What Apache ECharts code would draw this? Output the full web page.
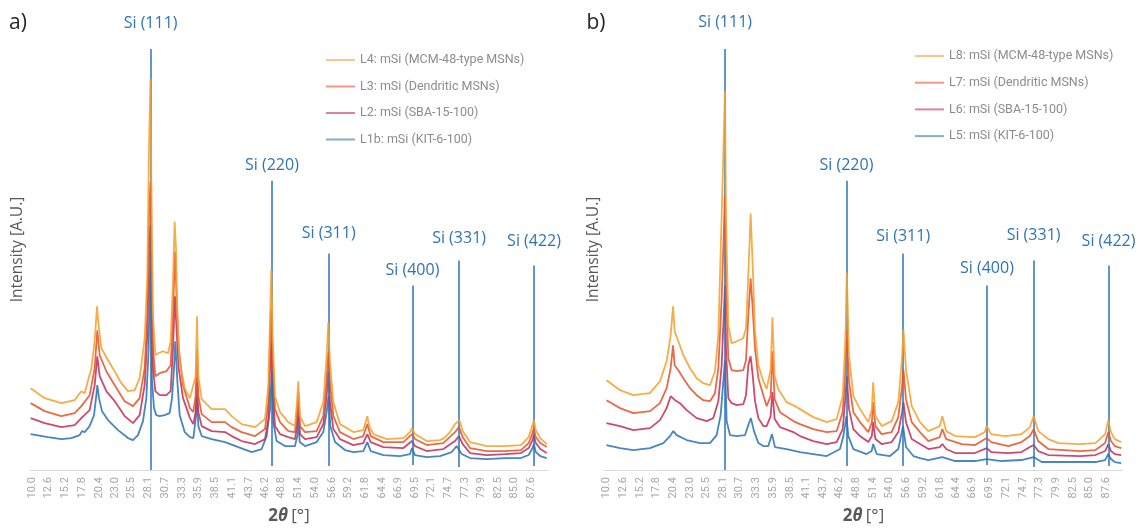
<!DOCTYPE html>
<html>
<head>
<meta charset="utf-8">
<title>XRD patterns of mSi samples</title>
<script src="https://cdn.jsdelivr.net/npm/echarts@6/dist/echarts.min.js"></script>
<style>
  html, body { margin: 0; padding: 0; background: #ffffff; }
  #chart { width: 1140px; height: 530px; }
</style>
</head>
<body>
<div id="chart"></div>
<script>
// 2θ tick labels of the category-style x axis
const tickLabels = ['10.0','12.6','15.2','17.8','20.4','23.0','25.5','28.1','30.7','33.3','35.9','38.5','41.1','43.7','46.2','48.8','51.4','54.0','56.6','59.2','61.8','64.4','66.9','69.5','72.1','74.7','77.3','79.9','82.5','85.0','87.6'];

// Silicon reference reflections: plane, 2θ position, marker top / base (intensity units)
const siPlanes = ['Si (111)', 'Si (220)', 'Si (311)', 'Si (400)', 'Si (331)', 'Si (422)'];
const siAngles = [28.44, 47.30, 56.12, 69.13, 76.38, 88.03];
const siTop = [422, 290, 217, 185, 210, 205];
const siBase = [0, 4, 4, 5, 3, 4];

// Panel a) series names
const namesA = ['L4: mSi (MCM-48-type MSNs)', 'L3: mSi (Dendritic MSNs)', 'L2: mSi (SBA-15-100)', 'L1b: mSi (KIT-6-100)'];
// Panel b) series names
const namesB = ['L8: mSi (MCM-48-type MSNs)', 'L7: mSi (Dendritic MSNs)', 'L6: mSi (SBA-15-100)', 'L5: mSi (KIT-6-100)'];

// Diffractograms, [2θ (°), intensity (offset, a.u.)]
const L4 = [[9.8,82],[11.98,72],[14.57,67],[16.64,70],[17.68,79],[18.2,77],[19.23,102],[19.75,129],[20.11,164],[20.37,145],[20.79,122],[21.82,110],[22.86,99],[23.89,87],[24.93,79],[25.97,80],[26.74,92],[27.52,132],[27.93,195],[28.19,322],[28.42,392],[28.56,289],[28.81,155],[29.18,115],[29.59,117],[30.37,119],[31.15,117],[31.56,129],[31.92,189],[32.18,249],[32.39,222],[32.6,155],[32.96,109],[33.74,82],[34.56,72],[34.82,71],[35.44,94],[35.65,154],[35.86,94],[36.38,71],[37.93,61],[40.0,61],[41.04,54],[42.59,46],[44.67,43],[46.22,51],[46.74,84],[47.0,151],[47.2,201],[47.41,134],[47.77,74],[48.55,58],[49.84,48],[50.88,44],[51.19,68],[51.4,89],[51.66,54],[52.44,44],[54.25,48],[55.28,68],[55.8,114],[56.06,148],[56.32,108],[56.84,68],[57.87,46],[59.95,38],[61.5,40],[61.91,49],[62.12,54],[62.43,44],[63.05,36],[65.13,31],[67.72,32],[68.75,38],[69.06,42],[69.53,36],[71.34,29],[73.41,30],[74.04,32],[74.97,38],[75.75,46],[76.42,50],[76.94,39],[78.08,28],[80.67,24],[83.52,24],[86.0,25],[87.2,33],[87.8,45],[88.0,50],[88.3,40],[89.0,32],[90.0,26]];
const L3 = [[9.8,67],[11.98,59],[14.57,54],[16.64,57],[17.68,64],[18.97,75],[19.75,102],[20.16,140],[20.53,115],[21.56,99],[22.86,85],[24.41,69],[25.71,64],[26.74,72],[27.52,102],[27.93,155],[28.19,255],[28.42,289],[28.56,222],[28.81,122],[29.18,94],[29.85,97],[30.89,99],[31.56,105],[31.92,155],[32.23,219],[32.49,172],[32.8,122],[33.48,85],[34.56,62],[35.08,58],[35.44,74],[35.65,121],[35.86,74],[36.38,56],[37.93,48],[40.0,48],[41.04,43],[42.59,38],[44.67,34],[46.22,41],[46.74,68],[47.0,128],[47.2,161],[47.41,114],[47.77,61],[48.55,48],[49.84,39],[50.88,38],[51.19,58],[51.4,78],[51.66,44],[52.44,38],[54.25,39],[55.28,54],[55.8,91],[56.06,118],[56.32,88],[56.84,54],[57.87,38],[59.95,31],[61.5,34],[62.12,46],[62.64,34],[64.61,28],[67.72,28],[69.06,36],[69.53,31],[71.34,25],[73.93,27],[75.75,38],[76.37,43],[76.94,33],[78.08,22],[80.67,19],[83.52,19],[86.0,20],[87.2,27],[87.8,37],[88.0,42],[88.3,33],[89.0,27],[90.0,23]];
const L2 = [[9.8,52],[11.98,47],[14.57,43],[16.64,45],[17.68,52],[18.97,60],[19.75,85],[20.16,114],[20.53,94],[21.56,79],[22.86,69],[24.41,54],[25.71,47],[26.74,55],[27.52,85],[27.93,135],[28.19,222],[28.42,245],[28.56,189],[28.81,102],[29.18,79],[29.85,75],[30.89,75],[31.56,79],[31.92,122],[32.23,174],[32.49,139],[32.8,102],[33.48,72],[34.56,52],[35.08,46],[35.44,58],[35.65,88],[35.86,58],[36.38,44],[37.93,39],[40.0,38],[41.04,34],[42.59,29],[44.67,26],[46.22,31],[46.74,51],[47.0,101],[47.2,128],[47.41,88],[47.77,44],[48.55,36],[49.84,33],[50.88,31],[51.19,44],[51.4,68],[51.66,36],[52.44,31],[54.25,33],[55.28,46],[55.8,74],[56.06,98],[56.32,68],[56.84,41],[57.87,31],[59.95,25],[61.5,27],[62.12,36],[62.64,28],[64.61,23],[67.72,22],[69.06,29],[69.53,24],[71.34,19],[73.93,21],[75.75,29],[76.37,34],[76.94,26],[78.08,17],[80.67,15],[83.52,16],[86.0,17],[87.2,22],[87.8,30],[88.0,35],[88.3,27],[89.0,21],[90.0,17]];
const L1b = [[9.8,36],[12.5,33],[14.57,31],[16.12,32],[17.42,35],[17.78,39],[18.2,38],[18.97,44],[19.65,55],[20.01,75],[20.16,85],[20.42,72],[20.89,59],[21.82,50],[23.38,40],[24.93,32],[25.71,30],[26.48,35],[27.26,49],[27.78,72],[28.14,122],[28.42,220],[28.54,140],[28.66,89],[28.97,62],[29.33,55],[29.85,54],[30.63,55],[31.4,57],[31.77,72],[32.08,102],[32.28,129],[32.6,89],[32.96,55],[33.74,38],[34.56,33],[35.08,32],[35.5,54],[35.65,74],[35.86,44],[36.38,34],[37.93,31],[40.0,28],[42.07,23],[44.15,18],[45.7,21],[46.48,34],[47.0,61],[47.3,100],[47.51,48],[48.03,29],[49.33,24],[50.88,24],[51.24,34],[51.4,54],[51.61,28],[52.44,24],[54.25,28],[55.28,38],[55.8,58],[56.1,74],[56.37,44],[57.1,28],[58.65,20],[59.95,18],[61.5,19],[62.12,28],[62.64,19],[64.61,15],[67.2,14],[68.75,16],[69.06,22],[69.53,15],[71.34,13],[73.41,14],[75.23,18],[76.0,24],[76.3,26],[76.78,16],[78.08,12],[80.67,11],[83.52,12],[86.0,12],[87.2,15],[87.8,22],[88.0,26],[88.3,18],[89.0,14],[90.0,12]];

const L8 = [[10.0,90],[12.11,80],[14.18,75],[16.77,77],[18.32,89],[19.36,109],[19.98,135],[20.35,164],[20.6,139],[21.17,129],[21.95,115],[22.99,102],[24.02,92],[25.06,87],[26.09,85],[26.87,99],[27.39,135],[27.91,255],[28.42,379],[28.58,255],[28.94,145],[29.46,127],[30.24,129],[31.27,132],[31.69,142],[32.05,195],[32.41,257],[32.73,205],[33.09,139],[33.61,105],[34.38,89],[34.9,81],[35.52,101],[35.8,153],[36.14,94],[36.71,81],[38.01,68],[39.3,64],[40.08,61],[42.15,53],[44.23,48],[45.78,51],[46.72,74],[47.15,134],[47.35,198],[47.7,114],[48.37,74],[49.41,61],[50.7,48],[51.25,61],[51.45,88],[51.8,54],[52.77,44],[54.33,49],[55.36,68],[55.95,114],[56.15,141],[56.55,101],[57.44,64],[58.73,48],[60.03,39],[61.8,44],[62.2,54],[62.8,39],[64.2,34],[67.28,33],[68.8,38],[69.1,44],[69.8,36],[71.93,34],[74.52,36],[75.8,43],[76.4,54],[77.1,39],[78.67,31],[80.23,27],[83.6,26],[86.0,27],[87.5,36],[88.0,50],[88.4,38],[89.0,31],[90.0,28]];
const L7 = [[10.0,70],[12.11,62],[14.18,57],[16.77,59],[18.32,67],[19.36,82],[19.98,102],[20.35,125],[20.6,105],[21.17,100],[21.95,92],[22.99,82],[24.02,75],[25.06,70],[26.09,69],[26.87,77],[27.39,102],[27.91,172],[28.42,275],[28.58,189],[28.94,112],[29.46,100],[30.24,99],[31.27,100],[31.69,110],[32.05,155],[32.41,192],[32.73,162],[33.09,122],[33.61,92],[34.38,75],[34.9,64],[35.52,74],[35.8,119],[36.14,71],[36.97,58],[39.04,49],[40.08,46],[42.15,41],[44.23,38],[45.78,39],[46.72,58],[47.15,101],[47.35,141],[47.7,88],[48.37,58],[49.41,48],[50.7,38],[51.25,48],[51.45,68],[51.8,44],[52.77,36],[54.33,38],[55.36,53],[55.95,84],[56.15,101],[56.55,71],[57.44,48],[58.73,38],[60.03,29],[61.8,33],[62.2,41],[62.8,31],[65.21,26],[67.28,25],[69.1,32],[69.8,28],[72.45,24],[74.52,28],[75.8,34],[76.4,41],[77.1,29],[78.67,21],[83.6,19],[86.0,20],[87.5,27],[88.0,38],[88.4,29],[89.0,24],[90.0,22]];
const L6 = [[10.0,47],[12.11,44],[14.18,40],[16.77,42],[18.32,50],[19.36,62],[19.98,74],[20.29,75],[20.66,70],[21.43,67],[22.47,60],[24.02,52],[25.58,49],[26.61,52],[27.39,69],[27.91,105],[28.42,185],[28.58,122],[28.94,72],[29.46,67],[30.24,65],[31.27,66],[31.69,75],[32.05,105],[32.41,114],[32.73,95],[33.09,69],[33.61,52],[34.38,44],[34.9,44],[35.52,54],[35.8,78],[36.14,51],[36.97,43],[39.04,38],[40.08,34],[42.15,29],[44.23,26],[45.78,28],[46.72,41],[47.15,74],[47.35,94],[47.7,61],[48.37,41],[49.41,34],[50.7,28],[51.25,34],[51.45,48],[51.8,31],[52.77,26],[54.33,28],[55.36,38],[55.95,58],[56.15,68],[56.55,48],[57.44,31],[58.73,26],[60.03,21],[61.8,23],[62.2,26],[62.8,21],[64.2,17],[67.28,17],[69.1,22],[69.8,18],[72.45,17],[74.52,18],[75.8,23],[76.4,25],[77.1,19],[78.67,15],[83.6,14],[86.0,15],[87.5,19],[88.0,26],[88.4,19],[89.0,16],[90.0,15]];
const L5 = [[10.0,25],[12.11,22],[14.18,20],[16.77,22],[18.84,27],[19.88,34],[20.4,39],[20.91,35],[22.47,30],[24.54,27],[26.09,27],[27.13,35],[27.75,55],[28.42,110],[28.68,49],[29.2,35],[30.24,34],[31.53,35],[32.05,45],[32.45,52],[32.93,39],[33.61,27],[34.38,24],[35.16,24],[35.72,36],[36.19,23],[38.01,21],[40.08,18],[42.15,16],[44.23,14],[46.3,21],[46.82,34],[47.3,54],[47.59,34],[48.37,21],[50.44,16],[51.22,19],[51.45,26],[52.0,16],[54.07,14],[55.36,21],[56.1,44],[56.56,23],[57.7,14],[58.73,12],[60.03,10],[62.2,13],[64.2,9],[67.28,9],[69.1,11],[71.42,9],[74.52,10],[76.4,13],[77.64,8],[80.75,8],[83.6,8],[86.0,8],[87.5,10],[88.0,16],[88.4,11],[89.0,8],[90.0,7]];

const seriesColors = ['#F4A230', '#E6552D', '#C3325A', '#2E75B6'];
const siColor = '#2A74B8';

const dataA = [L4, L3, L2, L1b];
const dataB = [L8, L7, L6, L5];

function xAxisFor(gridIndex) {
  return {
    type: 'value', gridIndex: gridIndex, min: 9.7, max: 90.2,
    name: '{b|2}{bi|θ} {r|[°]}', nameLocation: 'middle', nameGap: 38,
    nameTextStyle: {
      rich: {
        b: { fontFamily: 'Open Sans', fontSize: 17, fontWeight: 'bold', color: '#595959' },
        bi: { fontFamily: 'Open Sans', fontSize: 17, fontWeight: 'bold', fontStyle: 'italic', color: '#595959' },
        r: { fontFamily: 'Open Sans', fontSize: 17, color: '#595959' }
      }
    },
    axisLine: { show: true, lineStyle: { color: '#D9D9D9', width: 1 } },
    axisTick: { show: false },
    splitLine: { show: false },
    axisLabel: {
      customValues: tickLabels.map(Number),
      formatter: v => v.toFixed(1),
      rotate: 90, margin: 7, color: '#A6A6A6', fontSize: 11, fontFamily: 'Roboto'
    }
  };
}

function yAxisFor(gridIndex, gap) {
  return {
    type: 'value', gridIndex: gridIndex, min: 0, max: 442,
    name: 'Intensity [A.U.]', nameLocation: 'middle', nameGap: gap, nameRotate: 90,
    nameTextStyle: { fontFamily: 'Open Sans', fontSize: 15.5, color: '#595959' },
    axisLine: { show: false }, axisTick: { show: false },
    axisLabel: { show: false }, splitLine: { show: false }
  };
}

function patternSeries(names, data, axisIndex) {
  // blue first, orange last so the warmer traces sit on top
  const out = [];
  for (let i = names.length - 1; i >= 0; i--) {
    out.push({
      type: 'line', name: names[i], xAxisIndex: axisIndex, yAxisIndex: axisIndex,
      data: data[i], symbol: 'none', showSymbol: false,
      lineStyle: { color: seriesColors[i], width: 1.8, opacity: 0.88 },
      itemStyle: { color: seriesColors[i] },
      z: 2 + (names.length - i)
    });
  }
  return out;
}

function siSeries(axisIndex, gaps) {
  return {
    type: 'line', name: 'Si reference', xAxisIndex: axisIndex, yAxisIndex: axisIndex,
    data: [], symbol: 'none', silent: true, z: 10,
    markLine: {
      silent: true, symbol: ['none', 'none'], animation: false,
      lineStyle: { color: siColor, width: 1.5, type: 'solid' },
      label: { show: true, position: 'end', color: '#2E75B6', fontSize: 16, fontFamily: 'Open Sans' },
      data: siAngles.map((a, i) => [
        { coord: [a, siBase[i]], label: { formatter: siPlanes[i], distance: gaps[i] } },
        { coord: [a, siTop[i]] }
      ])
    }
  };
}

function legendFor(names, left, top, gap) {
  return {
    orient: 'vertical', left: left, top: top, padding: 0, itemGap: gap,
    icon: 'rect', itemWidth: 29, itemHeight: 2,
    itemStyle: { opacity: 0.6 },
    textStyle: { color: '#8C8C8C', fontSize: 12.5, fontFamily: 'Roboto', lineHeight: 14 },
    data: names.slice()
  };
}

const chart = echarts.init(document.getElementById('chart'), null, { renderer: 'canvas' });
chart.setOption({
  animation: false,
  backgroundColor: '#ffffff',
  grid: [
    { left: 30, top: 29, width: 518, height: 442 },
    { left: 604.5, top: 29, width: 518, height: 442 }
  ],
  xAxis: [xAxisFor(0), xAxisFor(1)],
  yAxis: [yAxisFor(0, 4), yAxisFor(1, 3)],
  legend: [legendFor(namesA, 326, 53, 12.5), legendFor(namesB, 915, 49, 12.7)],
  graphic: [
    { type: 'text', x: 18, y: 23, style: { text: 'a)', fontSize: 21, fontFamily: 'Open Sans', fill: '#262626', align: 'center', verticalAlign: 'middle' } },
    { type: 'text', x: 596, y: 23, style: { text: 'b)', fontSize: 21, fontFamily: 'Open Sans', fill: '#262626', align: 'center', verticalAlign: 'middle' } }
  ],
  series: [
    ...patternSeries(namesA, dataA, 0),
    siSeries(0, [18, 7, 12, 7, 14, 16]),
    ...patternSeries(namesB, dataB, 1),
    siSeries(1, [19, 7, 9, 9, 17, 16])
  ]
});
</script>
</body>
</html>
